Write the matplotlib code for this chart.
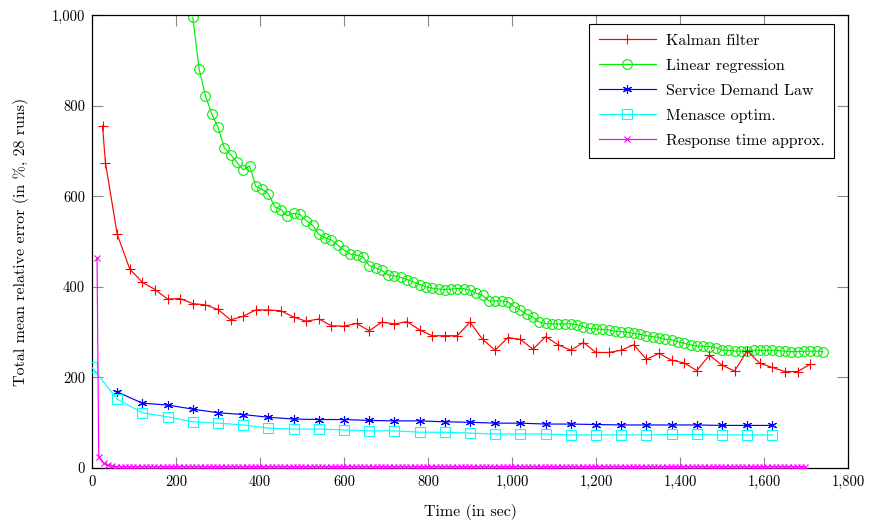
import numpy as np
import matplotlib
matplotlib.use("Agg")
from matplotlib import pyplot as plt
from matplotlib.ticker import FuncFormatter

plt.rcParams['font.family'] = ['cmr10', 'DejaVu Serif']
plt.rcParams['axes.formatter.use_mathtext'] = True

# Kalman filter
kalman_t = [25, 32] + list(range(60, 1711, 30))
kalman = [755, 674,
          516, 439, 410, 394, 373, 374, 363, 360, 350, 327,
          335, 349, 349, 347, 333, 324, 329, 314, 313, 319,
          303, 322, 318, 323, 305, 292, 292, 292, 322, 284,
          260, 288, 284, 262, 290, 272, 260, 277, 255, 255,
          260, 272, 240, 253, 238, 232, 215, 249, 227, 214,
          259, 231, 222, 213, 213, 229]

# Linear regression
linreg_t = list(range(240, 1741, 15))
linreg = [995, 881, 822, 782, 752, 707, 692, 675, 658, 667,
          622, 615, 605, 577, 570, 557, 562, 560, 546, 536,
          516, 508, 503, 492, 481, 472, 470, 466, 447, 442,
          436, 426, 424, 421, 416, 411, 405, 400, 397, 395,
          394, 395, 396, 396, 392, 386, 381, 369, 369, 369,
          367, 356, 349, 339, 333, 322, 319, 318, 318, 318,
          318, 316, 312, 308, 307, 306, 305, 302, 301, 300,
          297, 295, 292, 290, 288, 284, 283, 279, 275, 272,
          269, 269, 268, 266, 260, 260, 258, 258, 259, 260,
          260, 260, 260, 259, 258, 257, 257, 258, 258, 258,
          257]

# Service Demand Law
sdl_t = list(range(60, 1621, 60))
sdl = [168, 143, 139, 130, 122, 118, 112, 108, 107, 107,
       105, 104, 104, 102, 101, 99, 99, 97, 97, 96,
       95, 95, 95, 95, 94, 94, 94]

# Menasce optim.
menasce_t = list(range(0, 1621, 60))
menasce = [222, 152, 122, 113, 102, 99, 95, 88, 86, 86,
           84, 82, 82, 79, 79, 77, 75, 75, 75, 73,
           73, 73, 73, 74, 74, 73, 73, 73]

# Response time approx.
resp_t = [12, 16] + list(range(28, 1699, 10))
resp = [464, 25, 10, 6, 4, 3, 3, 3, 3, 3,
        3, 3, 3, 3, 3, 3, 3, 3, 3, 3,
        3, 3, 3, 3, 3, 3, 3, 3, 3, 3,
        3, 3, 3, 3, 3, 3, 3, 3, 3, 3,
        3, 3, 3, 3, 3, 3, 3, 3, 3, 3,
        3, 3, 3, 3, 3, 3, 3, 3, 3, 3,
        3, 3, 3, 3, 3, 3, 3, 3, 3, 3,
        3, 3, 3, 3, 3, 3, 3, 3, 3, 3,
        3, 3, 3, 3, 3, 3, 3, 3, 3, 3,
        3, 3, 3, 3, 3, 3, 3, 3, 3, 3,
        3, 3, 3, 3, 3, 3, 3, 3, 3, 3,
        3, 3, 3, 3, 3, 3, 3, 3, 3, 3,
        3, 3, 3, 3, 3, 3, 3, 3, 3, 3,
        3, 3, 3, 3, 3, 3, 3, 3, 3, 3,
        3, 3, 3, 3, 3, 3, 3, 3, 3, 3,
        3, 3, 3, 3, 3, 3, 3, 3, 3, 3,
        3, 3, 3, 3, 3, 3, 3, 3, 3, 3]

x_ticks = [0, 200, 400, 600, 800, 1000, 1200, 1400, 1600, 1800]
y_ticks = [0, 200, 400, 600, 800, 1000]

fig = plt.figure(figsize=(8.73, 5.23), dpi=100)
ax = fig.add_axes([92 / 873, 1 - 468 / 523, 756 / 873, 453 / 523])

lw = 0.85
ax.plot(kalman_t, kalman, color='#ff0000', lw=lw, marker='+', ms=7, mew=0.8,
        label='Kalman filter', zorder=3)
ax.plot(linreg_t, linreg, color='#00ee00', lw=lw, marker='o', ms=7, mew=0.8,
        mfc='none', label='Linear regression', zorder=2)
ax.plot(sdl_t, sdl, color='#0000ff', lw=lw, marker=(6, 2, 0), ms=6.5, mew=0.8,
        label='Service Demand Law', zorder=3)
ax.plot(menasce_t, menasce, color='#00ffff', lw=lw, marker='s', ms=7.5, mew=0.8,
        mfc='none', label='Menasce optim.', zorder=3)
ax.plot(resp_t, resp, color='#ff00ff', lw=lw, marker='x', ms=5, mew=0.8,
        label='Response time approx.', zorder=4)

ax.set_xlim(0, 1800)
ax.set_ylim(0, 1000)
ax.set_xticks(x_ticks)
ax.set_yticks(y_ticks)
fmt = FuncFormatter(lambda v, _: f"{v:,.0f}")
ax.xaxis.set_major_formatter(fmt)
ax.yaxis.set_major_formatter(fmt)
ax.tick_params(direction='in', length=8, width=0.8, color='#888888',
               top=True, right=True, labelsize=10.5, pad=5)
for s in ax.spines.values():
    s.set_linewidth(0.9)
    s.set_color('black')

ax.set_xlabel('Time (in sec)', fontsize=11.5, labelpad=11)
ax.set_ylabel('Total mean relative error (in %, 28 runs)', fontsize=11.5, labelpad=16)

leg = ax.legend(loc='upper right', bbox_to_anchor=(0.9815, 0.980), borderaxespad=0,
                fontsize=11.5, handlelength=3.6, handletextpad=0.6, labelspacing=0.68,
                fancybox=False, framealpha=1, edgecolor='black', borderpad=0.6)
leg.get_frame().set_linewidth(0.8)

fig.savefig('out.png', dpi=100)
